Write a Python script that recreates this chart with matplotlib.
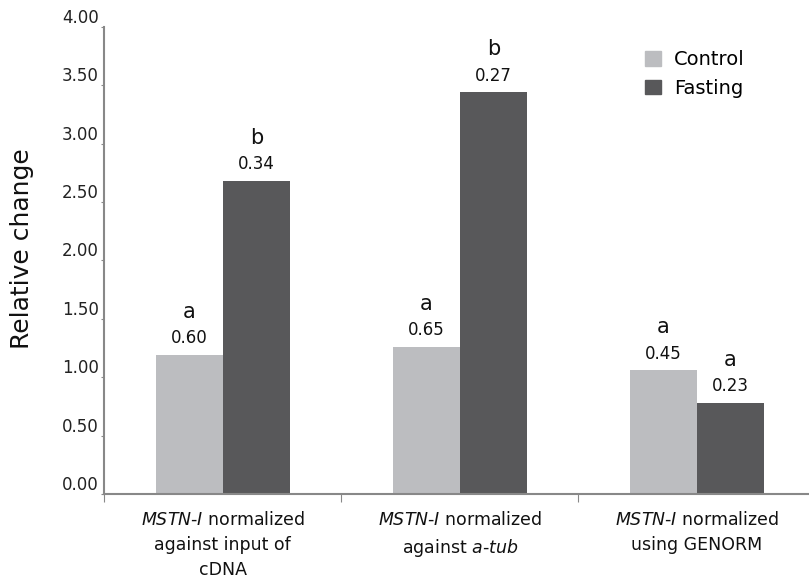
import matplotlib.pyplot as plt
from matplotlib.patches import Patch

plt.rcParams['font.family'] = 'DejaVu Sans'
plt.rcParams['mathtext.fontset'] = 'custom'
plt.rcParams['mathtext.rm'] = 'DejaVu Sans'
plt.rcParams['mathtext.it'] = 'DejaVu Sans:italic'

# data
categories = [r"$\it{MSTN}$-$\it{I}$ normalized" + "\nagainst input of\ncDNA",
              r"$\it{MSTN}$-$\it{I}$ normalized" + "\nagainst " + r"$\it{a}$-$\it{tub}$",
              r"$\it{MSTN}$-$\it{I}$ normalized" + "\nusing GENORM"]
control = [1.19, 1.26, 1.06]
fasting = [2.68, 3.44, 0.78]
control_err = ["0.60", "0.65", "0.45"]
fasting_err = ["0.34", "0.27", "0.23"]
control_letters = ["a", "a", "a"]
fasting_letters = ["b", "b", "a"]

c_control = '#bcbdc0'
c_fasting = '#58585a'

fig = plt.figure(figsize=(8.09, 5.83), dpi=100)
ax = fig.add_axes([0.129, 0.1527, 0.871, 0.8013])

w = 0.283
x = list(range(len(categories)))
xc = [i - w / 2 for i in x]
xf = [i + w / 2 for i in x]
ax.bar(xc, control, width=w, color=c_control)
ax.bar(xf, fasting, width=w, color=c_fasting)

for xs, vals, errs, letters in [(xc, control, control_err, control_letters),
                                (xf, fasting, fasting_err, fasting_letters)]:
    for xi, v, e, l in zip(xs, vals, errs, letters):
        ax.annotate(e, (xi, v), xytext=(0, 12), textcoords='offset points',
                    ha='center', va='center', fontsize=12, color='#111111')
        ax.annotate(l, (xi, v), xytext=(0, 31), textcoords='offset points',
                    ha='center', va='center', fontsize=15, color='#111111')

ax.set_xlim(-0.5, 2.473)
ax.set_ylim(0, 4)
ax.set_yticks([0, 0.5, 1, 1.5, 2, 2.5, 3, 3.5, 4])
ax.set_yticklabels(['%.2f' % t for t in ax.get_yticks()], fontsize=12, color='#222222',
                   va='bottom')
ax.tick_params(axis='y', length=2, width=0.8, color='#888888', pad=2)

ax.set_xticks(x)
ax.set_xticklabels(categories, fontsize=12.5, color='#111111', linespacing=1.5)
ax.set_xticks([-0.5, 0.5, 1.5], minor=True)
ax.tick_params(axis='x', which='major', length=0, pad=12)
ax.tick_params(axis='x', which='minor', length=6, width=0.8, color='#888888')

for s in ['top', 'right']:
    ax.spines[s].set_visible(False)
for s in ['left', 'bottom']:
    ax.spines[s].set_color('#888888')
    ax.spines[s].set_linewidth(1.5)

ax.set_ylabel('Relative change', fontsize=18, color='#111111')
ax.yaxis.set_label_coords(-0.1, 0.525)

handles = [Patch(color=c_control, label='Control'), Patch(color=c_fasting, label='Fasting')]
fig.legend(handles=handles, loc='upper left', bbox_to_anchor=(645 / 809, 1 - 50 / 583),
           frameon=False, fontsize=14, handlelength=0.8, handleheight=0.8,
           handletextpad=0.7, labelspacing=0.5, borderpad=0, borderaxespad=0)

fig.savefig('out.png', dpi=100)
